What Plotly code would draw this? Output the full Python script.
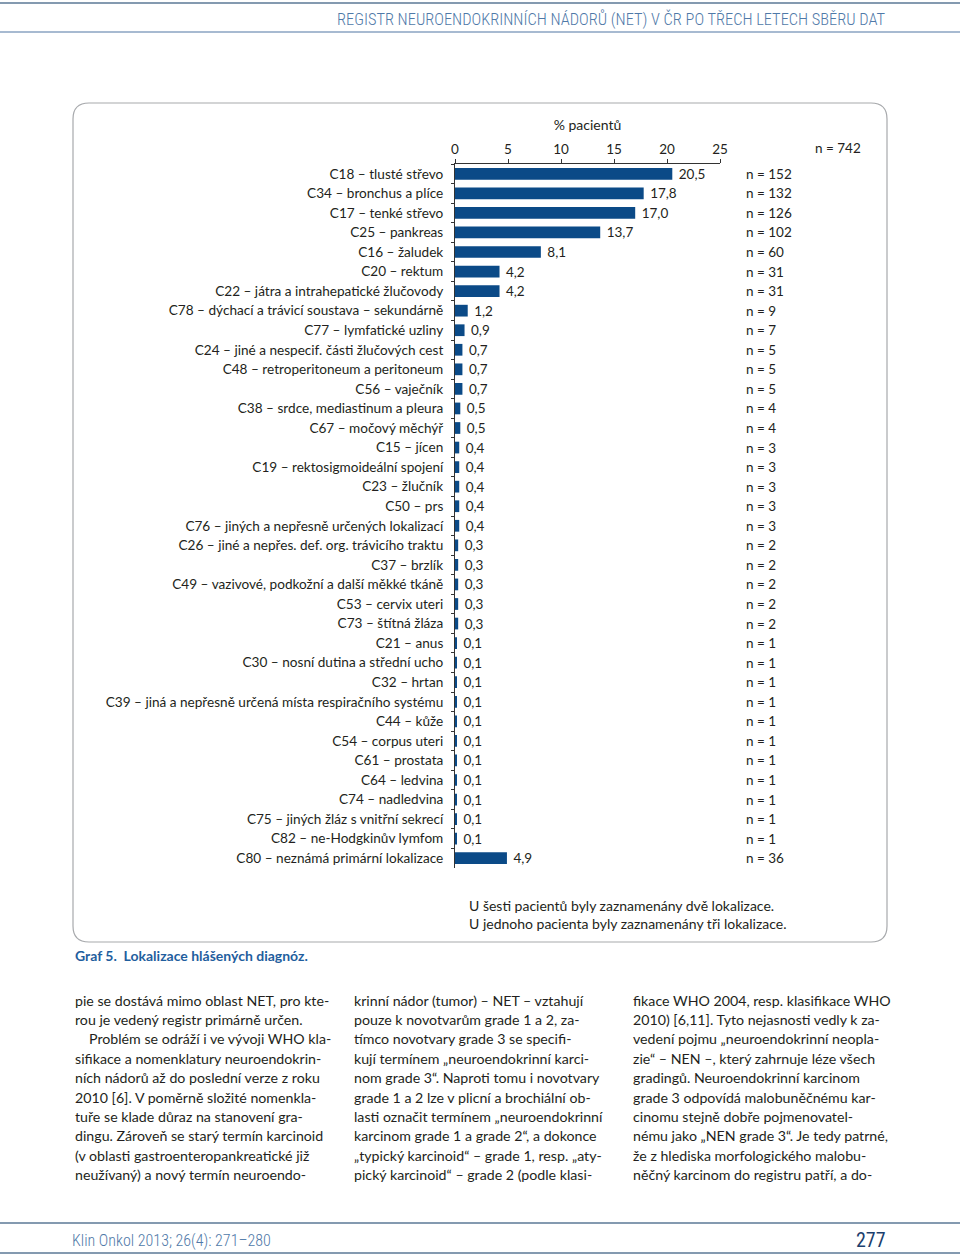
import plotly.graph_objects as go

W, H = 960, 1257

categories = [
    "C18 – tlusté střevo",
    "C34 – bronchus a plíce",
    "C17 – tenké střevo",
    "C25 – pankreas",
    "C16 – žaludek",
    "C20 – rektum",
    "C22 – játra a intrahepatické žlučovody",
    "C78 – dýchací a trávicí soustava – sekundárně",
    "C77 – lymfatické uzliny",
    "C24 – jiné a nespecif. části žlučových cest",
    "C48 – retroperitoneum a peritoneum",
    "C56 – vaječník",
    "C38 – srdce, mediastinum a pleura",
    "C67 – močový měchýř",
    "C15 – jícen",
    "C19 – rektosigmoideální spojení",
    "C23 – žlučník",
    "C50 – prs",
    "C76 – jiných a nepřesně určených lokalizací",
    "C26 – jiné a nepřes. def. org. trávicího traktu",
    "C37 – brzlík",
    "C49 – vazivové, podkožní a další měkké tkáně",
    "C53 – cervix uteri",
    "C73 – štítná žláza",
    "C21 – anus",
    "C30 – nosní dutina a střední ucho",
    "C32 – hrtan",
    "C39 – jiná a nepřesně určená místa respiračního systému",
    "C44 – kůže",
    "C54 – corpus uteri",
    "C61 – prostata",
    "C64 – ledvina",
    "C74 – nadledvina",
    "C75 – jiných žláz s vnitřní sekrecí",
    "C82 – ne-Hodgkinův lymfom",
    "C80 – neznámá primární lokalizace",
]
percent = [20.5, 17.8, 17.0, 13.7, 8.1, 4.2, 4.2, 1.2, 0.9, 0.7, 0.7, 0.7,
           0.5, 0.5, 0.4, 0.4, 0.4, 0.4, 0.4, 0.3, 0.3, 0.3, 0.3, 0.3,
           0.1, 0.1, 0.1, 0.1, 0.1, 0.1, 0.1, 0.1, 0.1, 0.1, 0.1, 4.9]
counts = [152, 132, 126, 102, 60, 31, 31, 9, 7, 5, 5, 5,
          4, 4, 3, 3, 3, 3, 3, 2, 2, 2, 2, 2,
          1, 1, 1, 1, 1, 1, 1, 1, 1, 1, 1, 36]
x_ticks = [0, 5, 10, 15, 20, 25]
total_n = 742

header_text = "REGISTR NEUROENDOKRINNÍCH NÁDORŮ (NET) V ČR PO TŘECH LETECH SBĚRU DAT"
axis_title = "% pacientů"
note_lines = ["U šesti pacientů byly zaznamenány dvě lokalizace.",
              "U jednoho pacienta byly zaznamenány tři lokalizace."]
caption = "<b>Graf 5.  Lokalizace hlášených diagnóz.</b>"
footer_left = "Klin Onkol 2013; 26(4): 271–280"
footer_page = "277"

col1 = [
    "pie se dostává mimo oblast NET, pro kte-",
    "rou je vedený registr primárně určen.",
    "Problém se odráží i ve vývoji WHO kla-",
    "sifikace a nomenklatury neuroendokrin-",
    "ních nádorů až do poslední verze z roku",
    "2010 [6]. V poměrně složité nomenkla-",
    "tuře se klade důraz na stanovení gra-",
    "dingu. Zároveň se starý termín karcinoid",
    "(v oblasti gastroenteropankreatické již",
    "neužívaný) a nový termín neuroendo-",
]
col2 = [
    "krinní nádor (tumor) – NET – vztahují",
    "pouze k novotvarům grade 1 a 2, za-",
    "tímco novotvary grade 3 se specifi-",
    "kují termínem „neuroendokrinní karci-",
    "nom grade 3“. Naproti tomu i novotvary",
    "grade 1 a 2 lze v plicní a brochiální ob-",
    "lasti označit termínem „neuroendokrinní",
    "karcinom grade 1 a grade 2“, a dokonce",
    "„typický karcinoid“ – grade 1, resp. „aty-",
    "pický karcinoid“ – grade 2 (podle klasi-",
]
col3 = [
    "fikace WHO 2004, resp. klasifikace WHO",
    "2010) [6,11]. Tyto nejasnosti vedly k za-",
    "vedení pojmu „neuroendokrinní neopla-",
    "zie“ – NEN –, který zahrnuje léze všech",
    "gradingů. Neuroendokrinní karcinom",
    "grade 3 odpovídá malobuněčnému kar-",
    "cinomu stejně dobře pojmenovatel-",
    "nému jako „NEN grade 3“. Je tedy patrné,",
    "že z hlediska morfologického malobu-",
    "něčný karcinom do registru patří, a do-",
]


def X(px):
    return px / W


def Y(py):
    return 1 - py / H


FONT = "Lato, 'Open Sans', sans-serif"
NARROW = "'Liberation Sans Narrow', 'Roboto Condensed', Lato, sans-serif"
TXT = "#231f20"
BAR = "#0b4a87"
BLUE = "#4f79a8"

value_text = ["\u00a0" + f"{v:.1f}".replace(".", ",") for v in percent]

fig = go.Figure()
fig.add_trace(go.Bar(
    x=percent, y=categories, orientation="h",
    marker=dict(color=BAR, line=dict(width=0)),
    width=0.6,
    text=value_text, textposition="outside", cliponaxis=False,
    constraintext="none",
    textfont=dict(family=FONT, size=13.5, color=TXT),
    hoverinfo="skip",
))

annotations = []
for c, n in zip(categories, counts):
    annotations.append(dict(x=X(744), xref="paper", y=c, yref="y",
                            text=f"n = {n}", showarrow=False, xanchor="left",
                            yanchor="middle",
                            font=dict(family=FONT, size=13.5, color=TXT)))
annotations.append(dict(x=X(813), xref="paper", y=Y(148), yref="paper",
                        text=f"n = {total_n}", showarrow=False, xanchor="left",
                        yanchor="middle", font=dict(family=FONT, size=13.5, color=TXT)))
for i, t in enumerate(note_lines):
    annotations.append(dict(x=X(467), xref="paper", y=Y(905 + 18 * i), yref="paper",
                            text=t, showarrow=False, xanchor="left", yanchor="middle",
                            font=dict(family=FONT, size=14, color=TXT)))
annotations.append(dict(x=X(73), xref="paper", y=Y(955), yref="paper",
                        text=caption, showarrow=False, xanchor="left", yanchor="middle",
                        font=dict(family=FONT, size=14, color="#1f5e9e")))
annotations.append(dict(x=X(887), xref="paper", y=Y(19), yref="paper",
                        text=header_text, showarrow=False, xanchor="right", yanchor="middle",
                        font=dict(family=NARROW, size=16.4, color=BLUE, weight=300)))
annotations.append(dict(x=X(70), xref="paper", y=Y(1240), yref="paper",
                        text=footer_left, showarrow=False, xanchor="left", yanchor="middle",
                        font=dict(family=NARROW, size=16, color=BLUE, weight=300)))
annotations.append(dict(x=X(888), xref="paper", y=Y(1240), yref="paper",
                        text=footer_page, showarrow=False, xanchor="right", yanchor="middle",
                        font=dict(family=NARROW, size=20, color="#1d3f6e")))
for cx, lines in ((73, col1), (352, col2), (631, col3)):
    for i, t in enumerate(lines):
        x0 = cx + (14 if (lines is col1 and i == 2) else 0)
        annotations.append(dict(x=X(x0), xref="paper", y=Y(1000 + 19.4 * i), yref="paper",
                                text=t, showarrow=False, xanchor="left", yanchor="middle",
                                font=dict(family=FONT, size=14.2, color=TXT)))

x0, x1, y0, y1, r = 73, 887, 103, 942, 16
path = (f"M {X(x0 + r)} {Y(y0)} L {X(x1 - r)} {Y(y0)} Q {X(x1)} {Y(y0)} {X(x1)} {Y(y0 + r)} "
        f"L {X(x1)} {Y(y1 - r)} Q {X(x1)} {Y(y1)} {X(x1 - r)} {Y(y1)} "
        f"L {X(x0 + r)} {Y(y1)} Q {X(x0)} {Y(y1)} {X(x0)} {Y(y1 - r)} "
        f"L {X(x0)} {Y(y0 + r)} Q {X(x0)} {Y(y0)} {X(x0 + r)} {Y(y0)} Z")
shapes = [
    dict(type="path", xref="paper", yref="paper", path=path,
         line=dict(color="#a7a9ac", width=1.2), fillcolor="rgba(0,0,0,0)", layer="below"),
    dict(type="line", xref="paper", yref="paper", x0=0, x1=1, y0=Y(3), y1=Y(3),
         line=dict(color="#5b7896", width=1.5)),
    dict(type="line", xref="paper", yref="paper", x0=0, x1=1, y0=Y(32), y1=Y(32),
         line=dict(color="#8aa3c2", width=1.5)),
    dict(type="line", xref="paper", yref="paper", x0=0, x1=1, y0=Y(1223), y1=Y(1223),
         line=dict(color="#5b7896", width=1.5)),
    dict(type="line", xref="paper", yref="paper", x0=0, x1=1, y0=Y(1253), y1=Y(1253),
         line=dict(color="#5b7896", width=1.5)),
]

fig.update_layout(
    template="none",
    width=W, height=H,
    margin=dict(l=0, r=0, t=0, b=0, pad=0),
    paper_bgcolor="white", plot_bgcolor="white",
    showlegend=False,
    font=dict(family=FONT, size=13, color=TXT),
    annotations=annotations,
    shapes=shapes,
)
fig.update_xaxes(
    domain=[X(455), X(720)], range=[0, 25], side="top",
    tickvals=x_ticks, ticktext=[str(t) for t in x_ticks],
    ticks="outside", ticklen=4, tickcolor="#333", tickwidth=1,
    showline=True, linecolor="#333", linewidth=1,
    showgrid=False, zeroline=False, automargin=False,
    tickfont=dict(family=FONT, size=13.5, color=TXT),
    title=dict(text=axis_title, standoff=6, font=dict(family=FONT, size=14, color=TXT)),
    fixedrange=True,
)
fig.update_yaxes(
    domain=[Y(868), Y(164)], type="category",
    categoryorder="array", categoryarray=categories,
    range=[len(categories) - 0.5, -0.5],
    ticks="outside", tickson="boundaries", ticklen=3, tickcolor="#333", tickwidth=1,
    showline=True, linecolor="#333", linewidth=1,
    showgrid=False, zeroline=False, automargin=False,
    ticklabelstandoff=8,
    tickfont=dict(family=FONT, size=13.6, color=TXT),
    fixedrange=True,
)

fig.write_html("out.html", config={"displayModeBar": False},
               post_script="document.body.style.margin='0';")
